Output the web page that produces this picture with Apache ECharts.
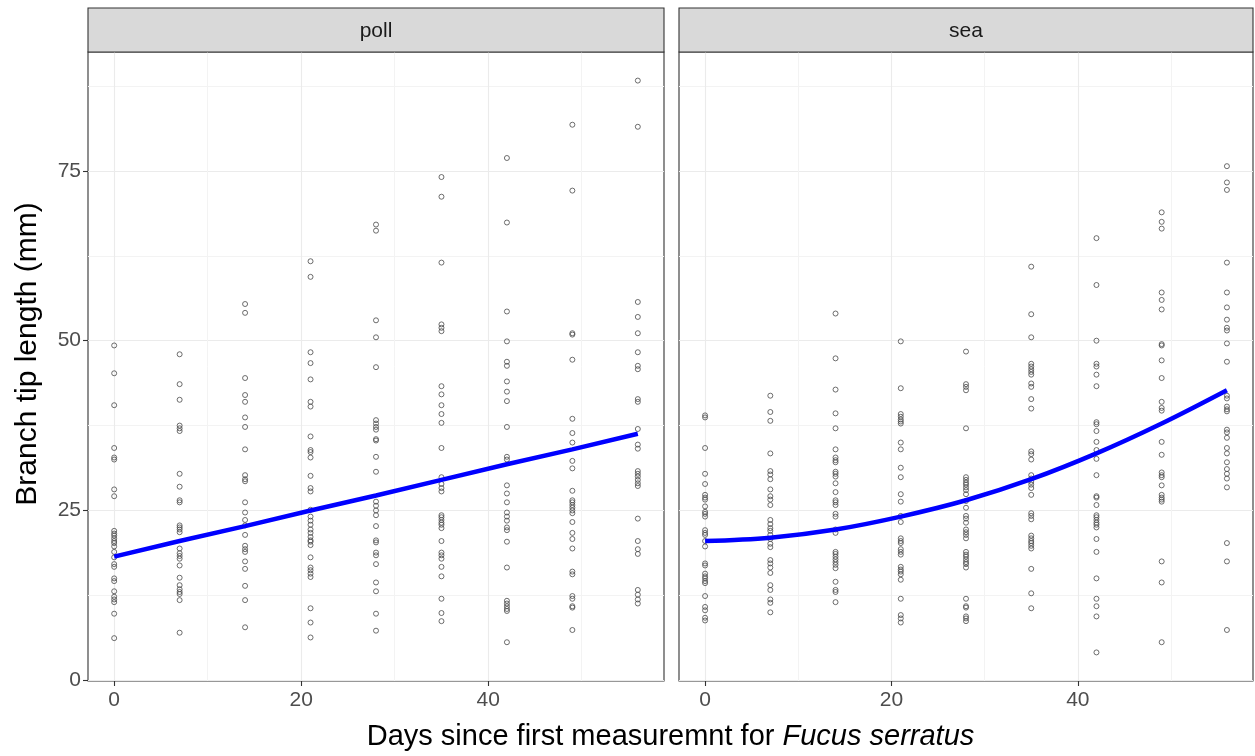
<!DOCTYPE html>
<html>
<head>
<meta charset="utf-8">
<script src="https://cdn.jsdelivr.net/npm/echarts@6/dist/echarts.min.js"></script>
<style>
  html, body { margin: 0; padding: 0; background: #ffffff; }
  #chart { width: 1255px; height: 756px; }
</style>
</head>
<body>
<div id="chart"></div>
<script>
// Measurement days and facet names
const days = [0, 7, 14, 21, 28, 35, 42, 49, 56];
const panelNames = ['poll', 'sea'];

// Branch tip lengths (mm), one list per measurement day
const pollTips = [
  [49.3, 45.2, 40.5, 34.2, 32.8, 32.5, 28.1, 27.1, 22.0, 21.6, 21.3, 20.9, 20.5, 20.2, 19.7, 18.9, 18.1, 17.1, 16.7, 15.0, 14.6, 13.1, 12.3, 11.9, 11.5, 9.8, 6.2],
  [48.0, 43.6, 41.3, 37.5, 37.1, 36.7, 30.4, 28.5, 26.5, 26.2, 22.8, 22.5, 22.2, 21.8, 19.4, 18.7, 18.3, 17.9, 16.9, 15.1, 14.0, 13.4, 13.0, 12.7, 11.8, 7.0],
  [55.4, 54.1, 44.5, 42.0, 41.0, 38.7, 37.3, 34.0, 30.2, 29.6, 29.3, 26.2, 24.7, 23.6, 22.8, 21.4, 19.8, 19.3, 18.9, 17.5, 16.4, 13.9, 11.8, 7.8],
  [61.7, 59.4, 48.3, 46.7, 44.3, 41.0, 40.3, 35.9, 33.9, 33.6, 32.8, 30.1, 28.3, 27.8, 25.1, 24.1, 23.5, 22.9, 22.2, 21.7, 21.1, 20.6, 20.4, 19.9, 18.1, 16.6, 16.2, 15.7, 15.2, 10.6, 8.5, 6.3],
  [67.1, 66.2, 53.0, 50.5, 46.1, 38.3, 37.8, 37.3, 36.9, 35.5, 35.3, 32.9, 30.7, 26.3, 25.7, 25.0, 24.3, 22.7, 20.6, 20.3, 18.8, 18.4, 17.1, 14.4, 13.1, 9.8, 7.3],
  [74.1, 71.2, 61.5, 52.4, 51.9, 51.4, 43.3, 42.1, 40.5, 39.2, 37.9, 34.2, 29.9, 28.9, 28.3, 27.8, 24.3, 24.0, 23.6, 23.2, 22.9, 22.4, 20.5, 18.8, 18.4, 17.9, 16.7, 15.3, 12.0, 9.9, 8.7],
  [76.9, 67.4, 54.3, 49.9, 46.9, 46.3, 44.0, 42.5, 41.1, 37.3, 32.9, 32.5, 28.7, 27.5, 26.2, 24.7, 24.1, 23.5, 22.5, 22.1, 20.4, 16.6, 11.7, 11.3, 10.9, 10.5, 10.2, 5.6],
  [81.8, 72.1, 51.1, 50.9, 47.2, 38.5, 36.4, 35.0, 32.3, 31.2, 27.9, 26.5, 26.2, 25.8, 25.4, 25.0, 24.6, 23.3, 21.7, 20.8, 19.4, 16.0, 15.6, 12.4, 12.0, 10.9, 10.7, 7.4],
  [88.3, 81.5, 55.7, 53.5, 51.1, 48.3, 46.3, 45.8, 41.4, 41.0, 37.0, 34.7, 34.1, 30.8, 30.4, 30.0, 29.5, 29.0, 28.6, 23.8, 20.5, 19.3, 18.6, 13.3, 12.6, 11.9, 11.3]
];

const seaTips = [
  [39.0, 38.7, 34.2, 30.4, 28.9, 27.3, 26.9, 26.6, 25.6, 24.8, 24.5, 24.1, 22.1, 21.7, 21.4, 20.5, 19.7, 17.2, 16.9, 15.7, 15.3, 15.0, 14.6, 14.3, 12.4, 10.8, 10.3, 9.2, 8.8],
  [41.9, 39.5, 38.2, 33.4, 30.8, 30.3, 29.6, 28.1, 27.1, 26.6, 25.8, 23.6, 23.0, 22.4, 22.0, 21.4, 20.8, 20.1, 19.6, 17.7, 17.2, 16.6, 15.8, 14.0, 13.3, 11.9, 11.4, 10.0],
  [54.0, 47.4, 42.8, 39.3, 37.1, 34.0, 32.8, 32.4, 32.1, 30.7, 30.4, 30.0, 29.0, 27.7, 26.5, 26.2, 25.8, 24.5, 24.1, 22.2, 21.7, 18.9, 18.6, 18.2, 17.8, 17.4, 17.0, 16.5, 14.5, 13.3, 13.0, 11.5],
  [49.9, 43.0, 39.2, 38.8, 38.4, 38.1, 37.8, 35.0, 34.0, 31.3, 29.9, 27.4, 26.3, 24.2, 23.3, 20.9, 20.5, 20.2, 19.3, 18.9, 18.5, 16.7, 16.3, 16.0, 15.6, 14.8, 12.0, 9.6, 9.1, 8.5],
  [48.4, 43.6, 43.2, 42.7, 37.1, 29.9, 29.5, 29.1, 28.8, 28.4, 28.0, 27.4, 26.4, 25.4, 24.2, 23.8, 23.2, 22.2, 21.8, 21.4, 20.9, 18.9, 18.5, 18.2, 17.8, 17.4, 17.1, 16.6, 12.0, 10.9, 10.7, 9.4, 9.1, 8.7],
  [60.9, 53.9, 50.5, 46.6, 46.2, 45.8, 45.4, 45.0, 43.7, 43.2, 41.4, 40.0, 33.7, 33.3, 32.5, 30.2, 29.7, 29.2, 28.8, 28.3, 27.3, 24.6, 24.2, 23.7, 21.3, 20.9, 20.5, 20.2, 19.8, 19.4, 16.4, 12.8, 10.6],
  [65.1, 58.2, 50.0, 46.6, 46.2, 45.0, 43.3, 38.0, 37.7, 36.7, 35.1, 33.9, 32.6, 30.2, 27.1, 26.9, 25.8, 24.3, 24.0, 23.6, 23.2, 22.9, 22.5, 20.8, 18.9, 15.0, 12.0, 10.9, 9.4, 4.1],
  [68.9, 67.5, 66.5, 57.1, 56.0, 54.6, 49.5, 49.3, 47.1, 44.5, 41.0, 40.1, 39.7, 35.1, 33.2, 30.6, 30.2, 29.9, 28.7, 27.3, 26.9, 26.6, 26.3, 17.5, 14.4, 5.6],
  [75.7, 73.3, 72.2, 61.5, 57.1, 54.9, 53.1, 51.9, 51.5, 49.6, 46.9, 41.9, 41.5, 40.3, 39.9, 39.6, 36.9, 36.5, 35.7, 34.2, 33.4, 32.1, 31.1, 30.4, 29.7, 28.4, 20.2, 17.5, 7.4]
];

// Fitted trend values at each measurement day
const pollFit = [18.2, 20.5, 22.7, 25.0, 27.2, 29.5, 31.8, 34.0, 36.3];
const seaFit = [20.5, 21.0, 22.2, 24.1, 26.5, 29.6, 33.4, 37.8, 42.7];

// Tick values
const xMajorTicks = [0, 20, 40];
const xMinorTicks = [10, 30, 50];
const yMajorTicks = [0, 25, 50, 75];
const yMinorTicks = [12.5, 37.5, 62.5, 87.5];

// Axis extents padded by 5% of the data range on each side
function paddedExtent(values) {
  const lo = Math.min(...values), hi = Math.max(...values);
  const pad = (hi - lo) * 0.05;
  return [lo - pad, hi + pad];
}
const allY = pollTips.flat().concat(seaTips.flat());
const [yMin, yMax] = paddedExtent(allY);
const [xMin, xMax] = paddedExtent(days);

function toPoints(groups) {
  const pts = [];
  groups.forEach((vals, i) => vals.forEach(v => pts.push([days[i], v])));
  return pts;
}
function toLine(fit) {
  return fit.map((v, i) => [days[i], v]);
}

const chart = echarts.init(document.getElementById('chart'), null, { renderer: 'canvas' });

const panelBoxes = [
  { left: 88, width: 576 },
  { left: 679, width: 574 }
];
const gridTop = 52, gridBottomPx = 681;
const labelFont = 'Liberation Sans, Arial, sans-serif';

const grids = panelBoxes.map(b => ({
  left: b.left, top: gridTop, width: b.width, height: gridBottomPx - gridTop,
  show: true, borderColor: '#333333', borderWidth: 1.1, backgroundColor: 'transparent',
  containLabel: false
}));

const xAxes = [];
const yAxes = [];
panelBoxes.forEach((b, p) => {
  // major x axis: labels, ticks, major grid lines
  xAxes.push({
    type: 'value', gridIndex: p, min: xMin, max: xMax, position: 'bottom',
    axisLine: { show: false, onZero: false },
    axisTick: { show: true, length: 5, customValues: xMajorTicks, lineStyle: { color: '#333333', width: 1.1 } },
    axisLabel: { show: true, customValues: xMajorTicks, color: '#4D4D4D', fontSize: 21, fontFamily: labelFont, margin: 9 },
    splitLine: { show: true, lineStyle: { color: '#EBEBEB', width: 1.1 } }
  });
  // minor x grid lines
  xAxes.push({
    type: 'value', gridIndex: p, min: xMin, max: xMax, position: 'bottom',
    axisLine: { show: false, onZero: false },
    axisTick: { show: false, customValues: xMinorTicks },
    axisLabel: { show: false },
    splitLine: { show: true, lineStyle: { color: '#F3F3F3', width: 1 } }
  });
  yAxes.push({
    type: 'value', gridIndex: p, min: yMin, max: yMax, position: 'left',
    axisLine: { show: false, onZero: false },
    axisTick: { show: p === 0, length: 5, customValues: yMajorTicks, lineStyle: { color: '#333333', width: 1.1 } },
    axisLabel: { show: p === 0, customValues: yMajorTicks, color: '#4D4D4D', fontSize: 21, fontFamily: labelFont, margin: 7 },
    splitLine: { show: true, lineStyle: { color: '#EBEBEB', width: 1.1 } }
  });
  yAxes.push({
    type: 'value', gridIndex: p, min: yMin, max: yMax, position: 'left',
    axisLine: { show: false, onZero: false },
    axisTick: { show: false, customValues: yMinorTicks },
    axisLabel: { show: false },
    splitLine: { show: true, lineStyle: { color: '#F3F3F3', width: 1 } }
  });
});

const tipsByPanel = [pollTips, seaTips];
const fitByPanel = [pollFit, seaFit];
const series = [];
panelNames.forEach((name, p) => {
  series.push({
    name: name + ' tips', type: 'scatter',
    xAxisIndex: p * 2, yAxisIndex: p * 2,
    data: toPoints(tipsByPanel[p]),
    symbol: 'circle', symbolSize: 5,
    itemStyle: { color: 'rgba(255,255,255,0)', borderColor: '#4A4A4A', borderWidth: 1 },
    silent: true, z: 3
  });
  series.push({
    name: name + ' trend', type: 'line',
    xAxisIndex: p * 2, yAxisIndex: p * 2,
    data: toLine(fitByPanel[p]),
    showSymbol: false, smooth: p === 1 ? 0.35 : false,
    lineStyle: { color: '#0000FF', width: 4.5 },
    silent: true, z: 4
  });
});

// facet strips
const graphics = [];
panelBoxes.forEach((b, p) => {
  graphics.push({
    type: 'rect', shape: { x: b.left, y: 8, width: b.width, height: gridTop - 8 },
    style: { fill: '#D9D9D9', stroke: '#333333', lineWidth: 1.1 }, z: 10, silent: true
  });
  graphics.push({
    type: 'text', x: b.left + b.width / 2, y: (8 + gridTop) / 2 + 1,
    style: { text: panelNames[p], fill: '#1A1A1A', font: '21px ' + labelFont, align: 'center', verticalAlign: 'middle' },
    z: 11, silent: true
  });
});
// axis titles
graphics.push({
  type: 'text', x: 28, y: 354, rotation: Math.PI / 2,
  style: { text: 'Branch tip length (mm)', fill: '#000000', font: '30px ' + labelFont, align: 'center', verticalAlign: 'middle' },
  z: 11, silent: true
});
graphics.push({
  type: 'text', x: (panelBoxes[0].left + panelBoxes[1].left + panelBoxes[1].width) / 2, y: 737,
  style: {
    text: '{n|Days since first measuremnt for }{i|Fucus serratus}',
    align: 'center', verticalAlign: 'middle',
    rich: {
      n: { fill: '#000000', fontSize: 29, fontFamily: labelFont },
      i: { fill: '#000000', fontSize: 29, fontFamily: labelFont, fontStyle: 'italic' }
    }
  },
  z: 11, silent: true
});

chart.setOption({
  animation: false,
  backgroundColor: '#ffffff',
  grid: grids,
  xAxis: xAxes,
  yAxis: yAxes,
  series: series,
  graphic: graphics
});
</script>
</body>
</html>
